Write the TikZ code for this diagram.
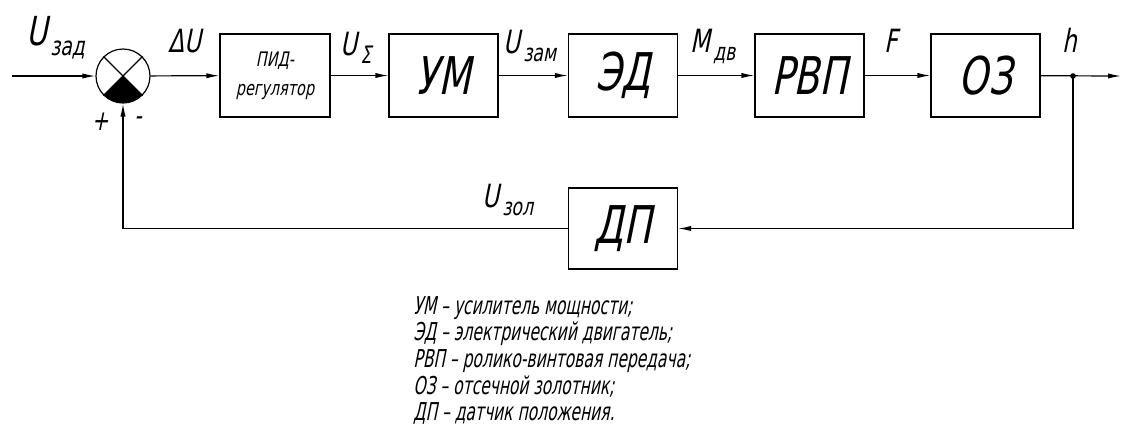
\documentclass[tikz,border=0pt]{standalone}
\usepackage{fontspec}
\setmainfont{DejaVu Sans}[FakeSlant=0.2,FakeStretch=0.72]
\newfontfamily\uzkiy{DejaVu Sans}[FakeSlant=0.2,FakeStretch=0.63]
\usetikzlibrary{arrows.meta}
\newcommand{\sig}[3][12]{#2\kern1.5pt\raisebox{-0.5ex}{\fontsize{#1}{#1}\selectfont #3}}
\begin{document}
\begin{tikzpicture}[x=0.5pt,y=0.5pt,
    blok/.style={draw, line width=0.6pt, inner sep=0pt, minimum width=54.5pt, minimum height=41.5pt, font=\fontsize{26}{26}\selectfont},
    strelka/.style={line width=0.6pt, -{Latex[length=6.5pt,width=2.6pt]}},
    signal/.style={inner sep=0pt, anchor=base west, font=\fontsize{16}{16}\selectfont},
    znak/.style={inner sep=0pt, font=\fontsize{14}{14}\selectfont\upshape}]
        \useasboundingbox (0,0) rectangle (1128,-425);

        % Сумматор
        \coordinate (c) at (123,-76);
        \fill (c) -- ++(-45:13.5pt) arc[start angle=-45, end angle=-135, radius=13.5pt] -- cycle;
        \node[draw, circle, line width=0.6pt, minimum size=27pt, inner sep=0pt] (sum) at (c) {};
        \draw[line width=0.6pt] (sum.45) -- (sum.-135);
        \draw[line width=0.6pt] (sum.135) -- (sum.-45);
        \node[znak] (plus) at (100,-122) {+};
        \node[znak] (minus) at (138,-121) {-};

        % Блоки прямой цепи
        \node[blok, minimum width=55pt, font=\fontsize{10}{14.5}\selectfont, align=center] (pid) at (275,-75.5) {ПИД-\\регулятор};
        \node[blok] (um) at (443.5,-75.5) {УМ};
        \node[blok] (ed) at (623,-75.5) {ЭД};
        \node[blok] (rvp) at (809.5,-75.5) {РВП};
        \node[blok] (oz) at (985.5,-75.5) {ОЗ};

        % Блок обратной связи
        \node[blok, minimum height=40.5pt] (dp) at (623,-228.5) {ДП};

        % Вход, выход и узел
        \coordinate (vhod) at (12,-76);
        \coordinate (vyhod) at (1121,-76);
        \coordinate (uzel) at (1073,-76);
        \fill (uzel) circle (1.4pt);

        % Связи
        \draw[strelka] (vhod) -- (sum);
        \foreach \a/\b in {sum/pid,pid/um,um/ed,ed/rvp,rvp/oz}
            \draw[strelka] (\a) -- (\b);
        \draw[strelka] (oz) -- (vyhod);
        \draw[strelka] (uzel) |- (dp);
        \draw[strelka] (dp) -| (sum);

        % Подписи сигналов
        \node[signal, font=\fontsize{20}{20}\selectfont] (uzad) at (26,-45) {\sig[13]{U}{зад}};
        \node[signal] (du) at (168,-52) {ΔU};
        \node[signal] (usum) at (340,-55) {\sig{U}{Σ}};
        \node[signal] (uzam) at (503,-53) {\sig{U}{зам}};
        \node[signal] (mdv) at (690,-52) {\sig{M}{дв}};
        \node[signal] (f) at (884,-52) {F};
        \node[signal] (h) at (1062,-52) {h};
        \node[signal] (uzol) at (482,-207) {\sig{U}{зол}};

        % Расшифровка обозначений
        \node[inner sep=0pt, anchor=north west, align=left, font=\uzkiy\fontsize{12.3}{13.3}\selectfont] (leg) at (413,-296) {УМ – усилитель мощности;\\ЭД – электрический двигатель;\\РВП – ролико-винтовая передача;\\ОЗ – отсечной золотник;\\ДП – датчик положения.};
    \end{tikzpicture}
\end{document}
